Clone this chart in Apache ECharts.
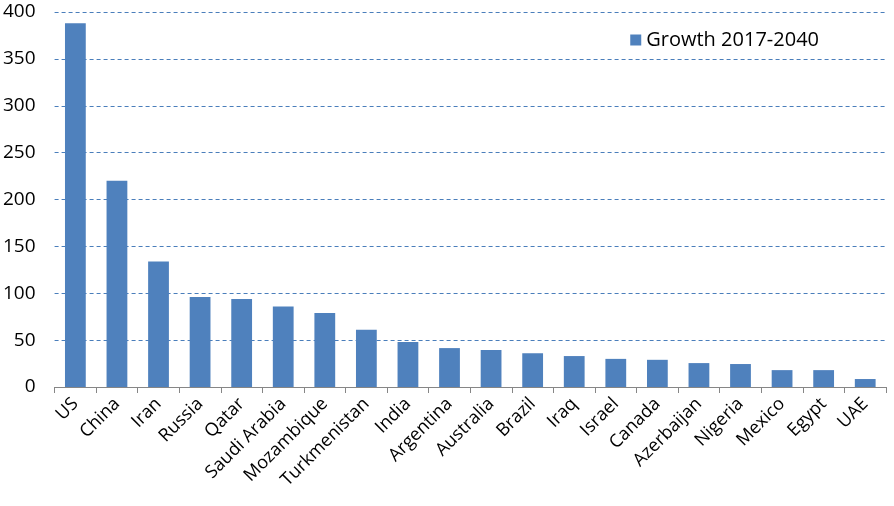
<!DOCTYPE html>
<html><head><meta charset="utf-8">
<script src="https://cdn.jsdelivr.net/npm/echarts@6/dist/echarts.min.js"></script>
<style>html,body{margin:0;padding:0;background:#fff}#c{width:894px;height:506px}</style>
</head><body><div id="c"></div>
<script>
const categories = ["US","China","Iran","Russia","Qatar","Saudi Arabia","Mozambique","Turkmenistan","India","Argentina","Australia","Brazil","Iraq","Israel","Canada","Azerbaijan","Nigeria","Mexico","Egypt","UAE"];
const growth = [388, 220, 134, 96, 94, 86, 79, 61, 48, 41.5, 39.5, 36, 33, 30, 29, 25.5, 24.5, 18, 18, 8.5];
const seriesName = "Growth 2017-2040";
const yTicks = {min: 0, max: 400, interval: 50};

const chart = echarts.init(document.getElementById('c'));
const font = "Open Sans, Noto Sans, sans-serif";
chart.setOption({
  animation: false,
  textStyle: {fontFamily: font},
  grid: {left: 54, right: 8, top: 12, bottom: 119},
  legend: {
    data: [seriesName], right: 70, top: 25, itemWidth: 11, itemHeight: 11, itemGap: 7,
    icon: 'rect',
    textStyle: {fontSize: 20, color: '#000', fontFamily: font}
  },
  xAxis: {
    type: 'category', data: categories,
    axisLine: {lineStyle: {color: '#868686'}},
    axisTick: {show: true, length: 6, lineStyle: {color: '#868686'}},
    axisLabel: {rotate: 45, fontSize: 18, color: '#000', interval: 0, margin: 14}
  },
  yAxis: {
    type: 'value', min: yTicks.min, max: yTicks.max, interval: yTicks.interval,
    axisLine: {show: false}, axisTick: {show: false},
    axisLabel: {fontSize: 19, color: '#000', margin: 19},
    splitLine: {lineStyle: {color: '#4a7ebb', type: [4, 3], width: 1}}
  },
  series: [{
    name: seriesName, type: 'bar', data: growth, barWidth: '50%',
    itemStyle: {color: '#4f81bd'}
  }]
});
</script></body></html>
